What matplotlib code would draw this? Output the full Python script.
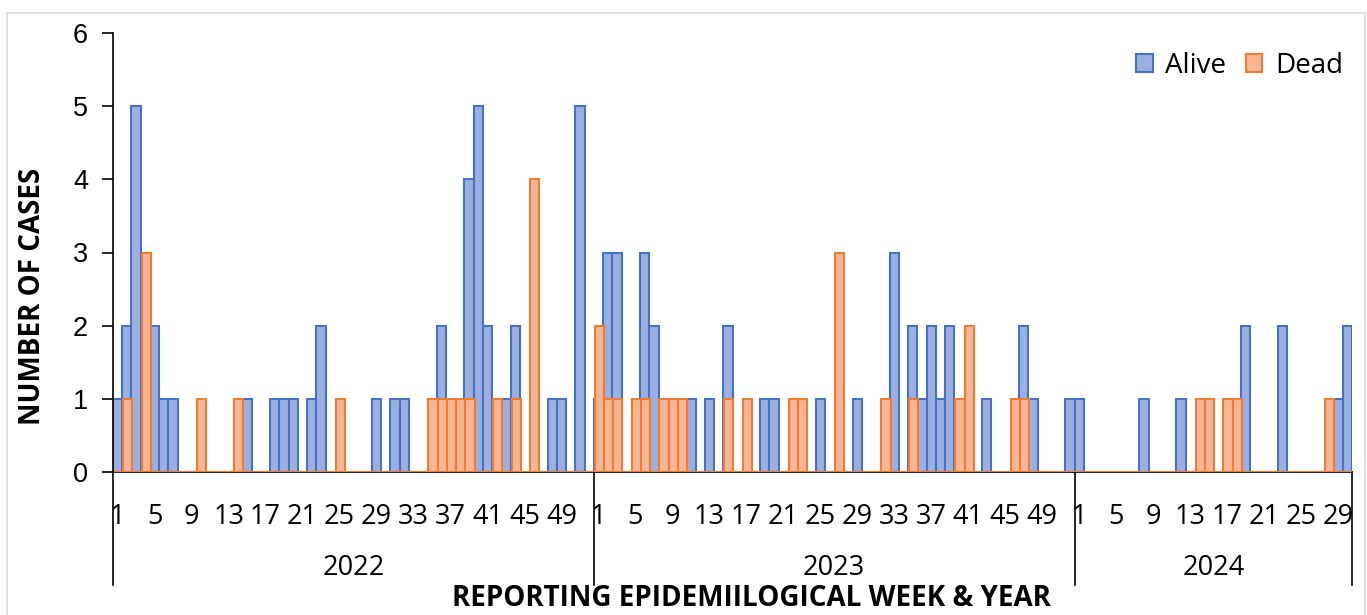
import numpy as np
import matplotlib.pyplot as plt
from matplotlib.patches import Rectangle

# weekly case counts by outcome
alive_2022 = [1, 2, 5, 0, 2, 1, 1, 0, 0, 0,
              0, 0, 0, 0, 1, 0, 0, 1, 1, 1,
              0, 1, 2, 0, 0, 0, 0, 0, 1, 0,
              1, 1, 0, 0, 0, 2, 0, 0, 4, 5,
              2, 0, 1, 2, 0, 0, 0, 1, 1, 0,
              5, 0]
dead_2022 = [0, 1, 0, 3, 0, 0, 0, 0, 0, 1,
             0, 0, 0, 1, 0, 0, 0, 0, 0, 0,
             0, 0, 0, 0, 1, 0, 0, 0, 0, 0,
             0, 0, 0, 0, 1, 1, 1, 1, 1, 0,
             0, 1, 0, 1, 0, 4, 0, 0, 0, 0,
             0, 0]
alive_2023 = [1, 3, 3, 0, 0, 3, 2, 0, 0, 0,
              1, 0, 1, 0, 2, 0, 0, 0, 1, 1,
              0, 0, 0, 0, 1, 0, 0, 0, 1, 0,
              0, 0, 3, 0, 2, 1, 2, 1, 2, 0,
              0, 0, 1, 0, 0, 0, 2, 1, 0, 0,
              0, 1]
dead_2023 = [2, 1, 1, 0, 1, 1, 0, 1, 1, 1,
             0, 0, 0, 0, 1, 0, 1, 0, 0, 0,
             0, 1, 1, 0, 0, 0, 3, 0, 0, 0,
             0, 1, 0, 0, 1, 0, 0, 0, 0, 1,
             2, 0, 0, 0, 0, 1, 1, 0, 0, 0,
             0, 0]
alive_2024 = [1, 0, 0, 0, 0, 0, 0, 1, 0, 0,
              0, 1, 0, 0, 0, 0, 0, 0, 2, 0,
              0, 0, 2, 0, 0, 0, 0, 0, 1, 2]
dead_2024 = [0, 0, 0, 0, 0, 0, 0, 0, 0, 0,
             0, 0, 0, 1, 1, 0, 1, 1, 0, 0,
             0, 0, 0, 0, 0, 0, 0, 1, 0, 0]

years = ["2022", "2023", "2024"]
alive = [alive_2022, alive_2023, alive_2024]
dead = [dead_2022, dead_2023, dead_2024]

alive_all = np.concatenate(alive)
dead_all = np.concatenate(dead)
n_weeks = [len(a) for a in alive]
weeks = np.concatenate([np.arange(1, n + 1) for n in n_weeks])
x = np.arange(len(alive_all))

blue_fill, blue_edge = "#9DAFE0", "#4472C4"
orange_fill, orange_edge = "#F7B595", "#ED7D31"
txt_font = ["Open Sans", "DejaVu Sans"]

fig = plt.figure(figsize=(13.67, 6.15), dpi=100)
ax = fig.add_axes([113 / 1367, 1 - 472 / 615, (1352 - 113) / 1367, 439 / 615])

# light chart-area border
fig.patches.append(Rectangle((7 / 1367, -0.05), 1358 / 1367, 1.05 - 13 / 615,
                             transform=fig.transFigure, fill=False,
                             edgecolor="#D9D9D9", linewidth=1.2))

ax.bar(x, alive_all, width=1.0, color=blue_fill, edgecolor=blue_edge,
       linewidth=1.5, label="Alive", zorder=2)
ax.bar(x + 0.1, dead_all, width=1.0, color=orange_fill, edgecolor=orange_edge,
       linewidth=1.5, label="Dead", zorder=3)

ax.set_xlim(-0.5, len(x) - 0.5)
ax.set_ylim(0, 6)
ax.set_yticks(range(7))
ax.tick_params(axis="y", labelsize=19.5, length=8, width=1.2, direction="out", pad=10)
for lab in ax.get_yticklabels():
    lab.set_fontfamily("Liberation Sans")

# week labels every 4 weeks
tick_pos = x[(weeks - 1) % 4 == 0]
ax.set_xticks(tick_pos)
ax.set_xticklabels(weeks[(weeks - 1) % 4 == 0], fontsize=19.5, family=txt_font)
ax.tick_params(axis="x", length=0, pad=22)

for side in ["top", "right"]:
    ax.spines[side].set_visible(False)
ax.spines["left"].set_linewidth(1.2)
ax.spines["bottom"].set_linewidth(1.2)

# year groups with dividers
bounds = np.concatenate([[0], np.cumsum(n_weeks)]) - 0.5
for b in bounds:
    ax.plot([b, b], [0, -0.257], transform=ax.get_xaxis_transform(),
            color="black", linewidth=1.2, clip_on=False)
for i, yr in enumerate(years):
    ax.text((bounds[i] + bounds[i + 1]) / 2, -0.219, yr, transform=ax.get_xaxis_transform(),
            ha="center", va="center", fontsize=19.5, family=txt_font)

ax.set_ylabel("NUMBER OF CASES", fontsize=20, fontweight="bold", family=txt_font)
ax.yaxis.set_label_coords(-0.053, 0.40)
fig.text(751 / 1367, 1 - 599 / 615, "REPORTING EPIDEMIILOGICAL WEEK & YEAR",
         ha="center", va="center", fontsize=20, fontweight="bold", family=txt_font)

ax.legend(loc="upper right", bbox_to_anchor=(1.006, 0.995), ncol=2, frameon=False,
          prop={"family": txt_font, "size": 20}, handlelength=0.6, handleheight=0.6,
          handletextpad=0.45, columnspacing=0.7, borderaxespad=0.2)

fig.savefig("out.png", dpi=100)
